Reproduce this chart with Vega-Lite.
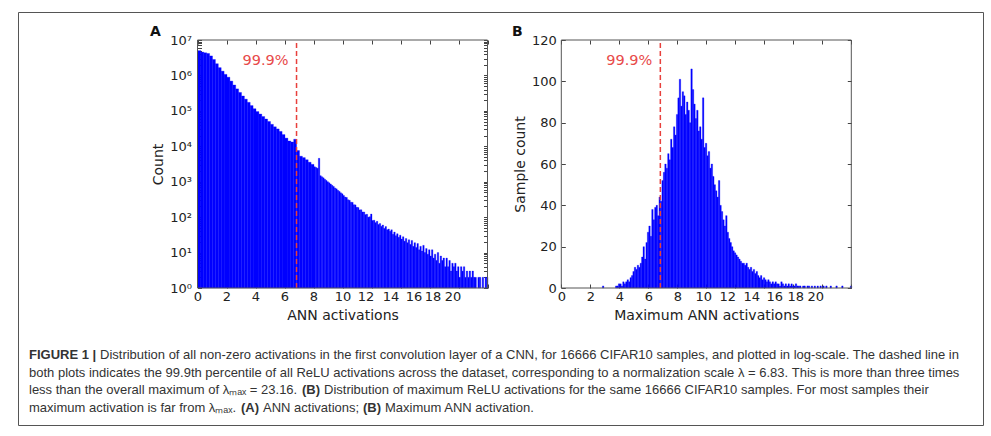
{
  "$schema": "https://vega.github.io/schema/vega-lite/v6.json",
  "width": 965,
  "height": 413,
  "autosize": {"type": "none"},
  "padding": {"left": 18, "top": 12, "right": 8, "bottom": 11},
  "background": "white",
  "datasets": {
    "actA": [
      {"b0":0.0,"b1":0.2,"n":5000000},{"b0":0.2,"b1":0.4,"n":4570000},{"b0":0.4,"b1":0.6,"n":4360000},{"b0":0.6,"b1":0.8,"n":4170000},{"b0":0.8,"b1":1.0,"n":3550000},
      {"b0":1.0,"b1":1.2,"n":2820000},{"b0":1.2,"b1":1.4,"n":2140000},{"b0":1.4,"b1":1.6,"n":1660000},{"b0":1.6,"b1":1.8,"n":1320000},{"b0":1.8,"b1":2.0,"n":1070000},
      {"b0":2.0,"b1":2.2,"n":891000},{"b0":2.2,"b1":2.4,"n":692000},{"b0":2.4,"b1":2.6,"n":537000},{"b0":2.6,"b1":2.8,"n":417000},{"b0":2.8,"b1":3.0,"n":331000},
      {"b0":3.0,"b1":3.2,"n":263000},{"b0":3.2,"b1":3.4,"n":214000},{"b0":3.4,"b1":3.6,"n":174000},{"b0":3.6,"b1":3.8,"n":141000},{"b0":3.8,"b1":4.0,"n":115000},
      {"b0":4.0,"b1":4.2,"n":95500},{"b0":4.2,"b1":4.4,"n":81300},{"b0":4.4,"b1":4.6,"n":69200},{"b0":4.6,"b1":4.8,"n":58900},{"b0":4.8,"b1":5.0,"n":50100},
      {"b0":5.0,"b1":5.2,"n":41700},{"b0":5.2,"b1":5.4,"n":35500},{"b0":5.4,"b1":5.6,"n":30900},{"b0":5.6,"b1":5.8,"n":26300},{"b0":5.8,"b1":6.0,"n":21400},
      {"b0":6.0,"b1":6.2,"n":17000},{"b0":6.2,"b1":6.4,"n":14100},{"b0":6.4,"b1":6.6,"n":13200},{"b0":6.6,"b1":6.8,"n":15800},{"b0":6.8,"b1":7.0,"n":7600},
      {"b0":7.0,"b1":7.2,"n":5250},{"b0":7.2,"b1":7.4,"n":4790},{"b0":7.4,"b1":7.6,"n":4170},{"b0":7.6,"b1":7.8,"n":3550},{"b0":7.8,"b1":8.0,"n":3090},
      {"b0":8.0,"b1":8.1,"n":2630},{"b0":8.1,"b1":8.2,"n":2510},{"b0":8.2,"b1":8.3,"n":2400},{"b0":8.3,"b1":8.4,"n":4570},{"b0":8.4,"b1":8.5,"n":1480},
      {"b0":8.5,"b1":8.6,"n":1380},{"b0":8.6,"b1":8.7,"n":1290},{"b0":8.7,"b1":8.8,"n":1175},{"b0":8.8,"b1":8.9,"n":1090},{"b0":8.9,"b1":9.0,"n":1000},
      {"b0":9.0,"b1":9.1,"n":930},{"b0":9.1,"b1":9.2,"n":860},{"b0":9.2,"b1":9.3,"n":790},{"b0":9.3,"b1":9.4,"n":735},{"b0":9.4,"b1":9.5,"n":670},
      {"b0":9.5,"b1":9.6,"n":630},{"b0":9.6,"b1":9.7,"n":570},{"b0":9.7,"b1":9.8,"n":535},{"b0":9.8,"b1":9.9,"n":485},{"b0":9.9,"b1":10.0,"n":455},
      {"b0":10.0,"b1":10.1,"n":410},{"b0":10.1,"b1":10.2,"n":370},{"b0":10.2,"b1":10.3,"n":360},{"b0":10.3,"b1":10.4,"n":310},{"b0":10.4,"b1":10.5,"n":300},
      {"b0":10.5,"b1":10.6,"n":265},{"b0":10.6,"b1":10.7,"n":262},{"b0":10.7,"b1":10.8,"n":225},{"b0":10.8,"b1":10.9,"n":222},{"b0":10.9,"b1":11.0,"n":190},
      {"b0":11.0,"b1":11.1,"n":188},{"b0":11.1,"b1":11.2,"n":160},{"b0":11.2,"b1":11.3,"n":162},{"b0":11.3,"b1":11.4,"n":140},{"b0":11.4,"b1":11.5,"n":140},
      {"b0":11.5,"b1":11.6,"n":118},{"b0":11.6,"b1":11.7,"n":120},{"b0":11.7,"b1":11.8,"n":100},{"b0":11.8,"b1":11.9,"n":103},{"b0":11.9,"b1":12.0,"n":122},
      {"b0":12.0,"b1":12.1,"n":80},{"b0":12.1,"b1":12.2,"n":82},{"b0":12.2,"b1":12.3,"n":70},{"b0":12.3,"b1":12.4,"n":76},{"b0":12.4,"b1":12.5,"n":62},
      {"b0":12.5,"b1":12.6,"n":66},{"b0":12.6,"b1":12.7,"n":55},{"b0":12.7,"b1":12.8,"n":60},{"b0":12.8,"b1":12.9,"n":48},{"b0":12.9,"b1":13.0,"n":54},
      {"b0":13.0,"b1":13.1,"n":44},{"b0":13.1,"b1":13.2,"n":46},{"b0":13.2,"b1":13.3,"n":40},{"b0":13.3,"b1":13.4,"n":44},{"b0":13.4,"b1":13.5,"n":33},
      {"b0":13.5,"b1":13.6,"n":38},{"b0":13.6,"b1":13.7,"n":30},{"b0":13.7,"b1":13.8,"n":34},{"b0":13.8,"b1":13.9,"n":27},{"b0":13.9,"b1":14.0,"n":31},
      {"b0":14.0,"b1":14.1,"n":24},{"b0":14.1,"b1":14.2,"n":28},{"b0":14.2,"b1":14.3,"n":21},{"b0":14.3,"b1":14.4,"n":25},{"b0":14.4,"b1":14.5,"n":19},
      {"b0":14.5,"b1":14.6,"n":23},{"b0":14.6,"b1":14.7,"n":17},{"b0":14.7,"b1":14.8,"n":22},{"b0":14.8,"b1":14.9,"n":15},{"b0":14.9,"b1":15.0,"n":19},
      {"b0":15.0,"b1":15.1,"n":14},{"b0":15.1,"b1":15.2,"n":18},{"b0":15.2,"b1":15.3,"n":12},{"b0":15.3,"b1":15.4,"n":15},{"b0":15.4,"b1":15.5,"n":11},
      {"b0":15.5,"b1":15.6,"n":16},{"b0":15.6,"b1":15.7,"n":10},{"b0":15.7,"b1":15.8,"n":13},{"b0":15.8,"b1":15.9,"n":9},{"b0":15.9,"b1":16.0,"n":12},
      {"b0":16.0,"b1":16.1,"n":8},{"b0":16.1,"b1":16.2,"n":12},{"b0":16.2,"b1":16.3,"n":7},{"b0":16.3,"b1":16.4,"n":9},{"b0":16.4,"b1":16.5,"n":6},
      {"b0":16.5,"b1":16.6,"n":10},{"b0":16.6,"b1":16.7,"n":5},{"b0":16.7,"b1":16.8,"n":8},{"b0":16.8,"b1":16.9,"n":6},{"b0":16.9,"b1":17.0,"n":7},
      {"b0":17.0,"b1":17.1,"n":4},{"b0":17.1,"b1":17.2,"n":7},{"b0":17.2,"b1":17.3,"n":4},{"b0":17.3,"b1":17.4,"n":6},{"b0":17.4,"b1":17.5,"n":3},
      {"b0":17.5,"b1":17.6,"n":5},{"b0":17.6,"b1":17.7,"n":4},{"b0":17.7,"b1":17.8,"n":5},{"b0":17.8,"b1":17.9,"n":3},{"b0":17.9,"b1":18.0,"n":4},
      {"b0":18.0,"b1":18.1,"n":2},{"b0":18.1,"b1":18.2,"n":4},{"b0":18.2,"b1":18.3,"n":3},{"b0":18.3,"b1":18.4,"n":4},{"b0":18.4,"b1":18.5,"n":2},
      {"b0":18.5,"b1":18.6,"n":3},{"b0":18.6,"b1":18.7,"n":2},{"b0":18.7,"b1":18.8,"n":3},{"b0":18.8,"b1":18.9,"n":2},{"b0":18.9,"b1":19.0,"n":3},
      {"b0":19.0,"b1":19.1,"n":2},{"b0":19.1,"b1":19.2,"n":2},{"b0":19.3,"b1":19.4,"n":2},{"b0":19.4,"b1":19.5,"n":2},
      {"b0":19.6,"b1":19.7,"n":2},{"b0":19.8,"b1":19.9,"n":2},{"b0":19.9,"b1":20.0,"n":2}
    ],
    "maxB": [
      {"b0":2.8,"b1":2.9,"n":1},{"b0":3.7,"b1":3.8,"n":1},{"b0":3.8,"b1":3.9,"n":1},{"b0":3.9,"b1":4.0,"n":2},
      {"b0":4.0,"b1":4.1,"n":2},{"b0":4.1,"b1":4.2,"n":1},{"b0":4.2,"b1":4.3,"n":3},{"b0":4.3,"b1":4.4,"n":2},{"b0":4.4,"b1":4.5,"n":3},
      {"b0":4.5,"b1":4.6,"n":4},{"b0":4.6,"b1":4.7,"n":3},{"b0":4.7,"b1":4.8,"n":5},{"b0":4.8,"b1":4.9,"n":6},{"b0":4.9,"b1":5.0,"n":8},
      {"b0":5.0,"b1":5.1,"n":10},{"b0":5.1,"b1":5.2,"n":9},{"b0":5.2,"b1":5.3,"n":11},{"b0":5.3,"b1":5.4,"n":10},{"b0":5.4,"b1":5.5,"n":12},
      {"b0":5.5,"b1":5.6,"n":15},{"b0":5.6,"b1":5.7,"n":20},{"b0":5.7,"b1":5.8,"n":14},{"b0":5.8,"b1":5.9,"n":22},{"b0":5.9,"b1":6.0,"n":27},
      {"b0":6.0,"b1":6.1,"n":30},{"b0":6.1,"b1":6.2,"n":25},{"b0":6.2,"b1":6.3,"n":38},{"b0":6.3,"b1":6.4,"n":33},{"b0":6.4,"b1":6.5,"n":39},
      {"b0":6.5,"b1":6.6,"n":40},{"b0":6.6,"b1":6.7,"n":35},{"b0":6.7,"b1":6.8,"n":44},{"b0":6.8,"b1":6.9,"n":42},{"b0":6.9,"b1":7.0,"n":52},
      {"b0":7.0,"b1":7.1,"n":56},{"b0":7.1,"b1":7.2,"n":60},{"b0":7.2,"b1":7.3,"n":58},{"b0":7.3,"b1":7.4,"n":65},{"b0":7.4,"b1":7.5,"n":62},
      {"b0":7.5,"b1":7.6,"n":72},{"b0":7.6,"b1":7.7,"n":68},{"b0":7.7,"b1":7.8,"n":78},{"b0":7.8,"b1":7.9,"n":74},{"b0":7.9,"b1":8.0,"n":84},
      {"b0":8.0,"b1":8.1,"n":92},{"b0":8.1,"b1":8.2,"n":101},{"b0":8.2,"b1":8.3,"n":88},{"b0":8.3,"b1":8.4,"n":95},{"b0":8.4,"b1":8.5,"n":93},
      {"b0":8.5,"b1":8.6,"n":84},{"b0":8.6,"b1":8.7,"n":90},{"b0":8.7,"b1":8.8,"n":86},{"b0":8.8,"b1":8.9,"n":80},{"b0":8.9,"b1":9.0,"n":106},
      {"b0":9.0,"b1":9.1,"n":96},{"b0":9.1,"b1":9.2,"n":89},{"b0":9.2,"b1":9.3,"n":82},{"b0":9.3,"b1":9.4,"n":86},{"b0":9.4,"b1":9.5,"n":76},
      {"b0":9.5,"b1":9.6,"n":78},{"b0":9.6,"b1":9.7,"n":72},{"b0":9.7,"b1":9.8,"n":92},{"b0":9.8,"b1":9.9,"n":68},{"b0":9.9,"b1":10.0,"n":70},
      {"b0":10.0,"b1":10.1,"n":64},{"b0":10.1,"b1":10.2,"n":66},{"b0":10.2,"b1":10.3,"n":58},{"b0":10.3,"b1":10.4,"n":60},{"b0":10.4,"b1":10.5,"n":54},
      {"b0":10.5,"b1":10.6,"n":50},{"b0":10.6,"b1":10.7,"n":47},{"b0":10.7,"b1":10.8,"n":44},{"b0":10.8,"b1":10.9,"n":52},{"b0":10.9,"b1":11.0,"n":40},
      {"b0":11.0,"b1":11.1,"n":37},{"b0":11.1,"b1":11.2,"n":33},{"b0":11.2,"b1":11.3,"n":30},{"b0":11.3,"b1":11.4,"n":35},{"b0":11.4,"b1":11.5,"n":27},
      {"b0":11.5,"b1":11.6,"n":24},{"b0":11.6,"b1":11.7,"n":22},{"b0":11.7,"b1":11.8,"n":20},{"b0":11.8,"b1":11.9,"n":18},{"b0":11.9,"b1":12.0,"n":17},
      {"b0":12.0,"b1":12.1,"n":16},{"b0":12.1,"b1":12.2,"n":15},{"b0":12.2,"b1":12.3,"n":14},{"b0":12.3,"b1":12.4,"n":13},{"b0":12.4,"b1":12.5,"n":12},
      {"b0":12.5,"b1":12.6,"n":12},{"b0":12.6,"b1":12.7,"n":11},{"b0":12.7,"b1":12.8,"n":12},{"b0":12.8,"b1":12.9,"n":10},{"b0":12.9,"b1":13.0,"n":9},
      {"b0":13.0,"b1":13.1,"n":10},{"b0":13.1,"b1":13.2,"n":8},{"b0":13.2,"b1":13.3,"n":9},{"b0":13.3,"b1":13.4,"n":7},{"b0":13.4,"b1":13.5,"n":8},
      {"b0":13.5,"b1":13.6,"n":6},{"b0":13.6,"b1":13.7,"n":5},{"b0":13.7,"b1":13.8,"n":6},{"b0":13.8,"b1":13.9,"n":4},{"b0":13.9,"b1":14.0,"n":5},
      {"b0":14.0,"b1":14.1,"n":4},{"b0":14.1,"b1":14.2,"n":3},{"b0":14.2,"b1":14.3,"n":4},{"b0":14.3,"b1":14.4,"n":3},{"b0":14.4,"b1":14.5,"n":2},
      {"b0":14.5,"b1":14.6,"n":3},{"b0":14.6,"b1":14.7,"n":2},{"b0":14.7,"b1":14.8,"n":3},{"b0":14.8,"b1":14.9,"n":2},{"b0":14.9,"b1":15.0,"n":2},
      {"b0":15.0,"b1":15.1,"n":1},{"b0":15.1,"b1":15.2,"n":3},{"b0":15.2,"b1":15.3,"n":2},{"b0":15.3,"b1":15.4,"n":1},{"b0":15.4,"b1":15.5,"n":2},
      {"b0":15.5,"b1":15.6,"n":1},{"b0":15.6,"b1":15.7,"n":2},{"b0":15.7,"b1":15.8,"n":1},{"b0":15.8,"b1":15.9,"n":2},{"b0":15.9,"b1":16.0,"n":1},
      {"b0":16.0,"b1":16.1,"n":1},{"b0":16.1,"b1":16.2,"n":2},{"b0":16.2,"b1":16.3,"n":1},{"b0":16.3,"b1":16.4,"n":1},{"b0":16.4,"b1":16.5,"n":1},
      {"b0":16.6,"b1":16.7,"n":1},{"b0":16.7,"b1":16.8,"n":1},{"b0":16.9,"b1":17.0,"n":1},{"b0":17.0,"b1":17.1,"n":1},{"b0":17.2,"b1":17.3,"n":1},
      {"b0":17.4,"b1":17.5,"n":1},{"b0":17.6,"b1":17.7,"n":1},{"b0":17.8,"b1":17.9,"n":1},{"b0":18.0,"b1":18.1,"n":1},{"b0":18.2,"b1":18.3,"n":1},
      {"b0":18.5,"b1":18.6,"n":1},{"b0":18.9,"b1":19.0,"n":1},{"b0":19.3,"b1":19.4,"n":1},{"b0":19.9,"b1":20.0,"n":1}
    ],
    "pct": [{"lambda": 6.83, "label": "99.9%"}],
    "caption": [
      {"seg":"b0","line":1,"text":"FIGURE 1 |"},
      {"seg":"n1","line":1,"text":"Distribution of all non-zero activations in the first convolution layer of a CNN, for 16666 CIFAR10 samples, and plotted in log-scale. The dashed line in"},
      {"seg":"n0","line":2,"text":"both plots indicates the 99.9th percentile of all ReLU activations across the dataset, corresponding to a normalization scale λ = 6.83. This is more than three times"},
      {"seg":"n0","line":3,"text":"less than the overall maximum of λₘₐₓ = 23.16."},
      {"seg":"b3","line":3,"text":"(B)"},
      {"seg":"n3","line":3,"text":"Distribution of maximum ReLU activations for the same 16666 CIFAR10 samples. For most samples their"},
      {"seg":"n0","line":4,"text":"maximum activation is far from λₘₐₓ."},
      {"seg":"b4a","line":4,"text":"(A)"},
      {"seg":"n4a","line":4,"text":"ANN activations;"},
      {"seg":"b4b","line":4,"text":"(B)"},
      {"seg":"n4b","line":4,"text":"Maximum ANN activation."}
    ]
  },
  "layer": [
    {
      "layer": [
        {
          "data": {"name": "actA"},
          "mark": {"type": "bar", "color": "#0000ff", "binSpacing": 0, "stroke": "#0000ff", "strokeWidth": 0.3},
          "encoding": {
            "x": {"field": "b0", "type": "quantitative", "bin": "binned", "scale": {"domain": [0, 20], "range": [179.5, 469.5], "nice": false, "zero": false},
              "axis": {"orient": "bottom", "offset": -137, "values": [0,2,4,6,8,10,12,14,16,18,20], "tickSize": -4, "labelPadding": 6, "title": "ANN activations", "titlePadding": 5,
                "labelOffset": {"expr": "datum.value == 12 ? -6 : datum.value == 14 ? -10 : datum.value == 16 ? -16 : datum.value == 18 ? -26 : datum.value == 20 ? -35 : 0"}}},
            "x2": {"field": "b1"},
            "y": {"field": "n", "type": "quantitative", "scale": {"type": "log", "domain": [1, 10000000], "range": [276, 28], "nice": false},
              "axis": {"orient": "left", "offset": -179.5, "values": [1,2,3,4,5,6,7,8,9,10,20,30,40,50,60,70,80,90,100,200,300,400,500,600,700,800,900,1000,2000,3000,4000,5000,6000,7000,8000,9000,10000,20000,30000,40000,50000,60000,70000,80000,90000,100000,200000,300000,400000,500000,600000,700000,800000,900000,1000000,2000000,3000000,4000000,5000000,6000000,7000000,8000000,9000000,10000000],
                "tickSize": -4, "labelPadding": 10, "title": "Count", "titlePadding": 4,
                "labelExpr": "abs(log(datum.value)/LN10 - round(log(datum.value)/LN10)) < 0.001 ? '10' + substring('⁰¹²³⁴⁵⁶⁷', round(log(datum.value)/LN10), round(log(datum.value)/LN10) + 1) : ''",
                "encode": {"ticks": {"update": {"x2": {"signal": "abs(log(datum.value)/LN10 - round(log(datum.value)/LN10)) < 0.001 ? 4 : 2"}}}}}},
            "y2": {"datum": 1}
          }
        },
        {
          "data": {"name": "pct"},
          "mark": {"type": "rule", "color": "#e8403c", "strokeDash": [5, 3], "strokeWidth": 1.5},
          "encoding": {
            "x": {"field": "lambda", "type": "quantitative", "axis": {"orient": "top", "offset": -28, "values": [0,2,4,6,8,10,12,14,16,18,20], "tickSize": -4, "labels": false, "title": null}},
            "y": {"datum": 1, "type": "quantitative", "axis": null},
            "y2": {"datum": 10000000}
          }
        },
        {
          "data": {"name": "pct"},
          "mark": {"type": "text", "align": "right", "baseline": "middle", "dx": -8, "font": "DejaVu Sans", "fontSize": 14.5, "color": "#e84a4a"},
          "encoding": {
            "x": {"field": "lambda", "type": "quantitative", "axis": null},
            "y": {"datum": 2570000, "type": "quantitative",
              "axis": {"orient": "right", "offset": -495.5, "values": [1,2,3,4,5,6,7,8,9,10,20,30,40,50,60,70,80,90,100,200,300,400,500,600,700,800,900,1000,2000,3000,4000,5000,6000,7000,8000,9000,10000,20000,30000,40000,50000,60000,70000,80000,90000,100000,200000,300000,400000,500000,600000,700000,800000,900000,1000000,2000000,3000000,4000000,5000000,6000000,7000000,8000000,9000000,10000000],
                "tickSize": -4, "labels": false, "title": null,
                "encode": {"ticks": {"update": {"x2": {"signal": "abs(log(datum.value)/LN10 - round(log(datum.value)/LN10)) < 0.001 ? -4 : -2"}}}}}},
            "text": {"field": "label"}
          }
        },
        {
          "data": {"values": [{"x0": 0, "x1": 20, "y0": 1, "y1": 10000000}]},
          "mark": {"type": "rect", "fill": "transparent", "stroke": "#555", "strokeWidth": 1},
          "encoding": {
            "x": {"field": "x0", "type": "quantitative", "axis": null},
            "x2": {"field": "x1"},
            "y": {"field": "y0", "type": "quantitative", "axis": null},
            "y2": {"field": "y1"}
          }
        },
        {
          "data": {"values": [{"panel": "A"}]},
          "mark": {"type": "text", "align": "left", "baseline": "alphabetic", "font": "DejaVu Sans", "fontSize": 14, "fontWeight": "bold", "color": "#111"},
          "encoding": {
            "x": {"datum": -3.28, "type": "quantitative", "axis": null},
            "y": {"datum": 13000000, "type": "quantitative", "axis": null},
            "text": {"field": "panel"}
          }
        }
      ],
      "resolve": {"axis": {"x": "independent", "y": "independent"}}
    },
    {
      "layer": [
        {
          "data": {"name": "maxB"},
          "mark": {"type": "bar", "color": "#0000ff", "binSpacing": 0, "stroke": "#0000ff", "strokeWidth": 0.3},
          "encoding": {
            "x": {"field": "b0", "type": "quantitative", "bin": "binned", "scale": {"domain": [0, 20], "range": [543.3, 833.3], "nice": false, "zero": false},
              "axis": {"orient": "bottom", "offset": -137, "values": [0,2,4,6,8,10,12,14,16,18,20], "tickSize": -4, "labelPadding": 6, "title": "Maximum ANN activations", "titlePadding": 5,
                "labelOffset": {"expr": "datum.value == 10 ? -3 : datum.value == 12 ? -8 : datum.value == 14 ? -13 : datum.value == 16 ? -19 : datum.value == 18 ? -27 : datum.value == 20 ? -36 : 0"}}},
            "x2": {"field": "b1"},
            "y": {"field": "n", "type": "quantitative", "scale": {"domain": [0, 120], "range": [276, 28], "nice": false},
              "axis": {"orient": "left", "offset": -543.3, "values": [0,20,40,60,80,100,120], "tickSize": -4, "labelPadding": 9, "title": "Sample count", "titlePadding": 4}}
          }
        },
        {
          "data": {"name": "pct"},
          "mark": {"type": "rule", "color": "#e8403c", "strokeDash": [5, 3], "strokeWidth": 1.5},
          "encoding": {
            "x": {"field": "lambda", "type": "quantitative", "axis": {"orient": "top", "offset": -28, "values": [0,2,4,6,8,10,12,14,16,18,20], "tickSize": -4, "labels": false, "title": null}},
            "y": {"datum": 0, "type": "quantitative", "axis": null},
            "y2": {"datum": 120}
          }
        },
        {
          "data": {"name": "pct"},
          "mark": {"type": "text", "align": "right", "baseline": "middle", "dx": -8, "font": "DejaVu Sans", "fontSize": 14.5, "color": "#e84a4a"},
          "encoding": {
            "x": {"field": "lambda", "type": "quantitative", "axis": null},
            "y": {"datum": 110, "type": "quantitative",
              "axis": {"orient": "right", "offset": -131.7, "values": [0,20,40,60,80,100,120], "tickSize": -4, "labels": false, "title": null}},
            "text": {"field": "label"}
          }
        },
        {
          "data": {"values": [{"x0": 0, "x1": 20, "y0": 0, "y1": 120}]},
          "mark": {"type": "rect", "fill": "transparent", "stroke": "#555", "strokeWidth": 1},
          "encoding": {
            "x": {"field": "x0", "type": "quantitative", "axis": null},
            "x2": {"field": "x1"},
            "y": {"field": "y0", "type": "quantitative", "axis": null},
            "y2": {"field": "y1"}
          }
        },
        {
          "data": {"values": [{"panel": "B"}]},
          "mark": {"type": "text", "align": "left", "baseline": "alphabetic", "font": "DejaVu Sans", "fontSize": 14, "fontWeight": "bold", "color": "#111"},
          "encoding": {
            "x": {"datum": -3.4, "type": "quantitative", "axis": null},
            "y": {"datum": 121.9, "type": "quantitative", "axis": null},
            "text": {"field": "panel"}
          }
        }
      ],
      "resolve": {"axis": {"x": "independent", "y": "independent"}}
    },
    {
      "data": {"name": "caption"},
      "encoding": {
        "x": {"datum": 0, "type": "quantitative", "scale": {"domain": [0, 1], "nice": false, "zero": false}, "axis": null},
        "y": {"field": "line", "type": "quantitative", "scale": {"domain": [-18.6, 5], "reverse": true, "nice": false, "zero": false}, "axis": null},
        "text": {"field": "text"}
      },
      "layer": [
        {"transform": [{"filter": "datum.seg == 'n0'"}], "mark": {"type": "text", "align": "left", "baseline": "middle", "font": "Liberation Sans", "fontSize": 13, "color": "#333", "dx": 11}},
        {"transform": [{"filter": "datum.seg == 'b0'"}], "mark": {"type": "text", "align": "left", "baseline": "middle", "font": "Liberation Sans", "fontSize": 13, "fontWeight": "bold", "color": "#333", "dx": 11}},
        {"transform": [{"filter": "datum.seg == 'n1'"}], "mark": {"type": "text", "align": "left", "baseline": "middle", "font": "Liberation Sans", "fontSize": 13, "color": "#333", "dx": 82}},
        {"transform": [{"filter": "datum.seg == 'b3'"}], "mark": {"type": "text", "align": "left", "baseline": "middle", "font": "Liberation Sans", "fontSize": 13, "fontWeight": "bold", "color": "#333", "dx": 284}},
        {"transform": [{"filter": "datum.seg == 'n3'"}], "mark": {"type": "text", "align": "left", "baseline": "middle", "font": "Liberation Sans", "fontSize": 13, "color": "#333", "dx": 306}},
        {"transform": [{"filter": "datum.seg == 'b4a'"}], "mark": {"type": "text", "align": "left", "baseline": "middle", "font": "Liberation Sans", "fontSize": 13, "fontWeight": "bold", "color": "#333", "dx": 223}},
        {"transform": [{"filter": "datum.seg == 'n4a'"}], "mark": {"type": "text", "align": "left", "baseline": "middle", "font": "Liberation Sans", "fontSize": 13, "color": "#333", "dx": 245}},
        {"transform": [{"filter": "datum.seg == 'b4b'"}], "mark": {"type": "text", "align": "left", "baseline": "middle", "font": "Liberation Sans", "fontSize": 13, "fontWeight": "bold", "color": "#333", "dx": 345}},
        {"transform": [{"filter": "datum.seg == 'n4b'"}], "mark": {"type": "text", "align": "left", "baseline": "middle", "font": "Liberation Sans", "fontSize": 13, "color": "#333", "dx": 367}}
      ]
    }
  ],
  "resolve": {"scale": {"x": "independent", "y": "independent"}, "axis": {"x": "independent", "y": "independent"}},
  "config": {
    "view": {"stroke": "#555", "strokeWidth": 1},
    "axis": {"domain": false, "grid": false, "ticks": true, "tickColor": "#444", "tickWidth": 1, "labelFont": "DejaVu Sans", "labelFontSize": 13, "labelColor": "#222", "titleFont": "DejaVu Sans", "titleFontSize": 14, "titleFontWeight": "normal", "titleColor": "#222", "zindex": 1, "labelOverlap": false, "labelFlush": false}
  }
}
